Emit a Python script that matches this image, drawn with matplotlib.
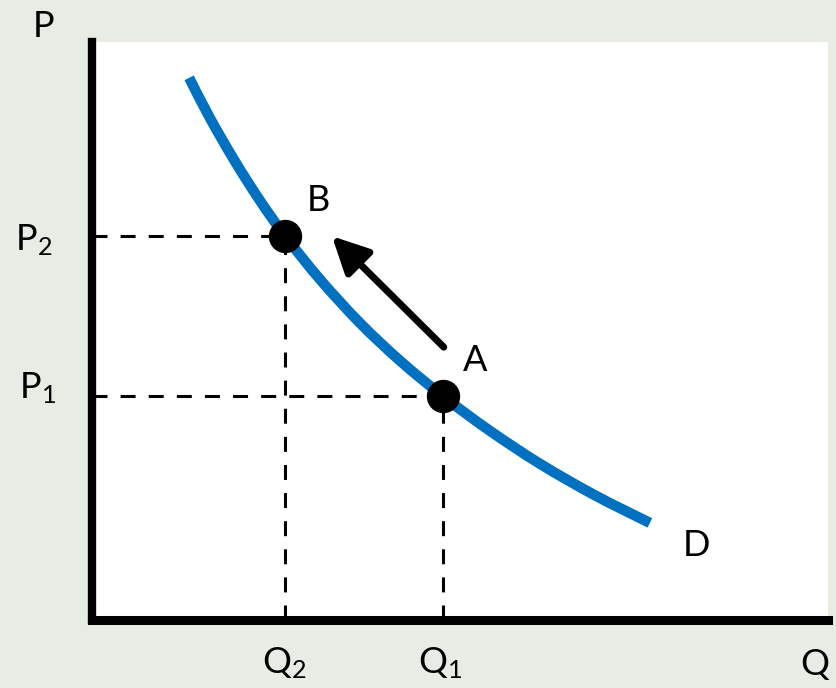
import matplotlib.pyplot as plt
from matplotlib.path import Path
from matplotlib.patches import PathPatch

# ===== 数据 (Q 与 P 任意单位, 0~10) =====
demand_q = [1.32, 1.60, 1.94, 2.28, 2.62, 3.10, 3.64, 4.19, 4.77, 5.41, 6.09, 6.83, 7.58]
demand_p = [9.38, 8.69, 7.94, 7.26, 6.65, 5.89, 5.14, 4.48, 3.87, 3.27, 2.70, 2.16, 1.68]

point_names = ["A", "B"]
point_q = [4.77, 2.62]
point_p = [3.88, 6.64]

arrow_tail = (4.78, 4.72)
arrow_head = (3.26, 6.64)

BG = "#e7ece5"
BLUE = "#0070c0"

plt.rcParams["font.family"] = ["Lato", "DejaVu Sans"]
plt.rcParams["mathtext.default"] = "regular"


def smooth_path(xs, ys):
    # Catmull-Rom 转三次贝塞尔, 让曲线穿过所有读取点
    pts = list(zip(xs, ys))
    verts = [pts[0]]
    codes = [Path.MOVETO]
    for i in range(len(pts) - 1):
        p0 = pts[i - 1] if i > 0 else pts[i]
        p1, p2 = pts[i], pts[i + 1]
        p3 = pts[i + 2] if i + 2 < len(pts) else pts[i + 1]
        c1 = (p1[0] + (p2[0] - p0[0]) / 6, p1[1] + (p2[1] - p0[1]) / 6)
        c2 = (p2[0] - (p3[0] - p1[0]) / 6, p2[1] - (p3[1] - p1[1]) / 6)
        verts += [c1, c2, p2]
        codes += [Path.CURVE4] * 3
    return Path(verts, codes)


fig = plt.figure(figsize=(8.37, 6.88), dpi=100, facecolor=BG)
ax = fig.add_axes([92 / 837, 68 / 688, 736 / 837, 578 / 688])
ax.set_facecolor("white")
ax.set_xlim(0, 10)
ax.set_ylim(0, 10)
for side in ("top", "right"):
    ax.spines[side].set_visible(False)
ax.spines["left"].set_linewidth(6)
ax.spines["bottom"].set_linewidth(6.5)
ax.set_xticks([])
ax.set_yticks([])

# 虚线参考线
dash = (0, (4.9, 4.3))
for q, p in zip(point_q, point_p):
    ax.plot([0, q], [p, p], color="black", lw=2.2, linestyle=dash, zorder=2)
    ax.plot([q, q], [0, p], color="black", lw=2.2, linestyle=dash, zorder=2)

# 需求曲线
ax.add_patch(PathPatch(smooth_path(demand_q, demand_p), facecolor="none",
                       edgecolor=BLUE, lw=7.5, capstyle="butt", zorder=3))

# 点
ax.plot(point_q, point_p, "o", color="black", markersize=23, zorder=4)

# 箭头
ax.annotate("", xy=arrow_head, xytext=arrow_tail,
            arrowprops=dict(arrowstyle="-|>,head_length=1.1,head_width=0.55",
                            lw=5, color="black", shrinkA=0, shrinkB=0,
                            mutation_scale=20), zorder=5)

fs = 26
txt = dict(fontsize=fs, color="black", ha="left", va="baseline", clip_on=False)
ax.text(-0.80, 10.09, "P", **txt)
ax.text(-1.05, 6.40, "P$_2$", **txt)
ax.text(-0.99, 3.84, "P$_1$", **txt)
ax.text(2.31, -0.92, "Q$_2$", **txt)
ax.text(4.43, -0.92, "Q$_1$", **txt)
ax.text(9.62, -0.95, "Q", **txt)
ax.text(2.92, 7.08, "B", **txt)
ax.text(5.04, 4.31, "A", **txt)
ax.text(8.03, 1.11, "D", **txt)

fig.savefig("out.png", dpi=100, facecolor=BG)
